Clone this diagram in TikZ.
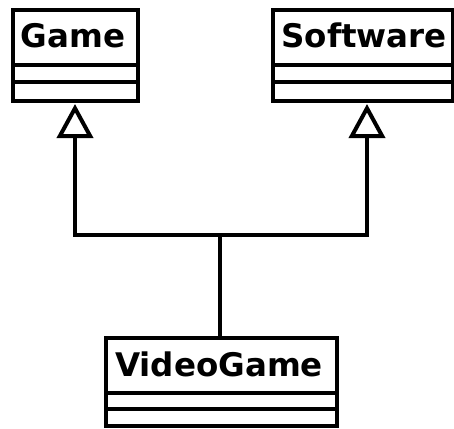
\documentclass[tikz,border=0pt]{standalone}
\usepackage{fontspec}
\setmainfont{DejaVu Sans}
\usetikzlibrary{arrows.meta}
\begin{document}
\begin{tikzpicture}[x=1pt,y=-1pt,
  cls/.style={draw, line width=4pt, anchor=north west, inner sep=0pt},
  sep/.style={line width=4pt},
  title/.style={anchor=base, inner sep=0pt, font=\fontsize{32.5}{36}\selectfont\bfseries},
  gen/.style={line width=4pt, -{Triangle[open, length=34pt, width=36pt, line width=4pt]}, shorten >=5pt}]
\useasboundingbox (0,0) rectangle (454,428);
% Game
\node[cls, minimum width=125pt, minimum height=91pt] (game) at (11,8) {};
\node[title] (gameT) at (73,48) {Game};
\draw[sep] (game.west |- 0,65) -- (game.east |- 0,65);
\draw[sep] (game.west |- 0,82) -- (game.east |- 0,82);
% Software
\node[cls, minimum width=180pt, minimum height=91pt] (soft) at (271,8) {};
\node[title] (softT) at (364,48) {Software};
\draw[sep] (soft.west |- 0,65) -- (soft.east |- 0,65);
\draw[sep] (soft.west |- 0,82) -- (soft.east |- 0,82);
% VideoGame
\node[cls, minimum width=231pt, minimum height=88pt] (vg) at (104,336) {};
\node[title] (vgT) at (219,376) {VideoGame};
\draw[sep] (vg.west |- 0,393) -- (vg.east |- 0,393);
\draw[sep] (vg.west |- 0,409) -- (vg.east |- 0,409);
% connectors
\coordinate (ga) at (75,99);
\coordinate (sa) at (367,99);
\coordinate (j) at (220,235);
\draw[line width=4pt] (vg.north -| j) -- (j);
\draw[gen] (j) -| (ga);
\draw[gen] (j) -| (sa);
\end{tikzpicture}
\end{document}
